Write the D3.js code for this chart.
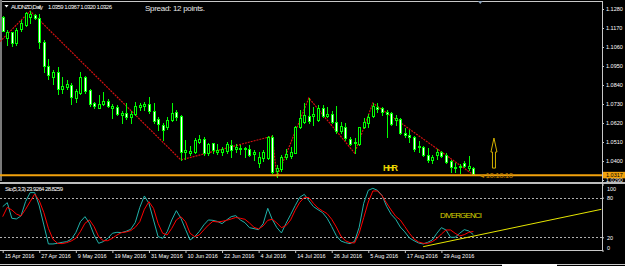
<!DOCTYPE html>
<html>
<head>
<meta charset="utf-8">
<script src="https://cdn.jsdelivr.net/npm/d3@7"></script>
<style>
  body { margin: 0; background: #000; }
  svg { display: block; }
  text { font-family: "Liberation Sans", Arial, sans-serif; }
</style>
</head>
<body>
<svg id="chart"></svg>
<script>
// Daily candles AUDNZD, one entry per bar (index 0 = 15 Apr 2016)
const openP = [1.1234,1.1112,1.1147,1.1083,1.1164,1.1187,1.1234,1.1245,1.1228,1.1089,
  1.0950,1.0886,1.0915,1.0817,1.0828,1.0840,1.0765,1.0793,1.0886,1.0811,
  1.0736,1.0707,1.0730,1.0747,1.0707,1.0712,1.0666,1.0678,1.0654,1.0672,
  1.0712,1.0718,1.0730,1.0689,1.0643,1.0608,1.0596,1.0637,1.0683,1.0660,
  1.0452,1.0446,1.0452,1.0510,1.0527,1.0446,1.0504,1.0452,1.0452,1.0458,
  1.0492,1.0469,1.0469,1.0475,1.0469,1.0440,1.0388,1.0417,1.0417,1.0538,
  1.0342,1.0354,1.0423,1.0429,1.0446,1.0596,1.0625,1.0660,1.0660,1.0637,
  1.0707,1.0660,1.0672,1.0625,1.0573,1.0596,1.0527,1.0504,1.0498,1.0596,
  1.0620,1.0660,1.0712,1.0707,1.0683,1.0678,1.0637,1.0643,1.0562,1.0550,
  1.0538,1.0481,1.0481,1.0435,1.0406,1.0435,1.0452,1.0435,1.0400,1.0359,
  1.0365,1.0388,1.0359,1.0359];
const highP = [1.1240,1.1158,1.1147,1.1170,1.1216,1.1263,1.1268,1.1251,1.1251,1.1101,
  1.0990,1.0927,1.0944,1.0886,1.0869,1.0851,1.0817,1.0915,1.0892,1.0817,
  1.0741,1.0782,1.0799,1.0759,1.0730,1.0724,1.0689,1.0736,1.0689,1.0741,
  1.0736,1.0741,1.0770,1.0736,1.0654,1.0620,1.0654,1.0736,1.0695,1.0666,
  1.0521,1.0486,1.0533,1.0550,1.0538,1.0504,1.0504,1.0498,1.0481,1.0510,
  1.0521,1.0498,1.0492,1.0481,1.0492,1.0464,1.0452,1.0464,1.0544,1.0550,
  1.0377,1.0435,1.0469,1.0481,1.0602,1.0695,1.0736,1.0765,1.0712,1.0724,
  1.0724,1.0712,1.0689,1.0718,1.0625,1.0620,1.0538,1.0533,1.0596,1.0649,
  1.0672,1.0736,1.0736,1.0712,1.0695,1.0683,1.0666,1.0649,1.0591,1.0579,
  1.0544,1.0515,1.0486,1.0475,1.0435,1.0469,1.0458,1.0446,1.0406,1.0388,
  1.0383,1.0400,1.0429,1.0367];
const lowP = [1.1153,1.1072,1.1066,1.1072,1.1153,1.1182,1.1199,1.1222,1.1054,1.0915,
  1.0875,1.0846,1.0788,1.0793,1.0817,1.0730,1.0741,1.0788,1.0793,1.0718,
  1.0707,1.0707,1.0724,1.0712,1.0649,1.0666,1.0620,1.0643,1.0620,1.0666,
  1.0695,1.0695,1.0678,1.0620,1.0579,1.0521,1.0585,1.0631,1.0637,1.0406,
  1.0412,1.0435,1.0446,1.0504,1.0435,1.0435,1.0446,1.0440,1.0435,1.0446,
  1.0423,1.0452,1.0440,1.0423,1.0429,1.0406,1.0365,1.0400,1.0412,1.0330,
  1.0307,1.0342,1.0412,1.0417,1.0446,1.0591,1.0620,1.0620,1.0608,1.0631,
  1.0654,1.0654,1.0620,1.0562,1.0562,1.0521,1.0492,1.0446,1.0492,1.0591,
  1.0596,1.0654,1.0683,1.0666,1.0538,1.0608,1.0608,1.0556,1.0538,1.0510,
  1.0458,1.0452,1.0429,1.0394,1.0388,1.0412,1.0423,1.0388,1.0336,1.0336,
  1.0330,1.0365,1.0348,1.0320];
const closeP = [1.1153,1.1147,1.1083,1.1158,1.1199,1.1257,1.1251,1.1228,1.1089,1.0950,
  1.0898,1.0915,1.0817,1.0834,1.0846,1.0770,1.0805,1.0886,1.0805,1.0730,
  1.0718,1.0730,1.0747,1.0718,1.0718,1.0672,1.0678,1.0654,1.0672,1.0718,
  1.0724,1.0730,1.0689,1.0631,1.0614,1.0579,1.0637,1.0678,1.0654,1.0452,
  1.0464,1.0458,1.0521,1.0527,1.0446,1.0498,1.0464,1.0464,1.0469,1.0498,
  1.0464,1.0481,1.0475,1.0469,1.0435,1.0452,1.0423,1.0452,1.0538,1.0336,
  1.0359,1.0423,1.0440,1.0452,1.0596,1.0649,1.0666,1.0631,1.0672,1.0707,
  1.0660,1.0672,1.0625,1.0573,1.0602,1.0533,1.0498,1.0510,1.0596,1.0625,
  1.0654,1.0718,1.0701,1.0683,1.0672,1.0614,1.0649,1.0562,1.0550,1.0538,
  1.0469,1.0486,1.0435,1.0406,1.0423,1.0452,1.0429,1.0394,1.0365,1.0365,
  1.0371,1.0371,1.0371,1.0326];

// Stochastic (5,3,3): main and signal line
const stoMain = [66.4,72.5,48.8,47.8,52.3,74.0,87.7,87.7,67.5,38.7,
  9.9,9.9,10.9,12.4,13.4,17.0,27.1,43.7,51.3,41.2,
  23.5,10.9,13.4,18.5,26.1,27.6,27.1,29.1,32.1,42.2,
  65.4,82.6,71.5,46.3,21.0,18.5,28.6,46.3,60.4,48.8,
  32.1,15.9,21.0,28.6,38.7,46.3,45.7,44.0,40.7,46.3,
  51.3,52.8,46.3,42.2,34.6,33.1,31.6,40.7,63.9,46.8,
  34.6,26.6,41.2,54.3,68.0,80.6,85.1,75.5,66.5,61.9,
  57.4,48.8,36.2,22.5,14.4,11.9,10.4,13.9,35.1,71.5,
  91.2,94.2,91.2,83.6,67.0,54.8,47.3,35.6,28.1,19.0,
  14.9,11.4,9.9,12.4,15.9,26.1,34.6,31.1,20.0,20.0,
  26.1,31.6,29.6,23.9264];
const stoSignal = [51.3,65.4,61.4,55.3,52.3,62.4,74.0,85.6,75.5,57.4,
  33.6,17.0,10.9,10.4,11.9,14.4,18.5,28.6,41.2,46.3,
  36.1,21.0,14.9,14.9,18.5,23.5,27.1,28.1,30.1,35.1,
  43.7,62.4,74.0,63.9,41.2,26.1,23.5,33.6,46.3,51.3,
  43.7,26.1,21.0,23.5,31.1,38.5,44.2,43.2,44.2,45.7,
  47.8,50.0,48.8,47.3,41.7,35.1,32.6,37.2,45.7,47.3,
  41.7,34.6,37.7,46.3,60.9,73.0,80.6,80.1,71.5,64.4,
  59.9,55.8,47.3,35.6,22.0,14.7,11.9,11.4,26.1,49.8,
  73.5,90.2,90.2,83.1,72.0,61.4,51.8,46.3,36.2,26.1,
  17.5,12.9,10.9,10.9,13.4,18.0,25.0,31.1,31.1,26.1,
  22.0,24.0,27.6,28.8259];

// ZigZag turning points [bar index, price]
const zigzag = [[-2,1.1054],[6,1.1268],[39,1.0406],[59,1.0544],[60,1.0307],[67,1.0765],[77,1.0446],[81,1.0736],[103,1.0320]];
// divergence trendline in the stochastic window [bar index, value]
const divLine = [[92,5.8],[131,62.4]];
const hLinePrice = 1.0317;

const priceTicks = [1.1280,1.1170,1.1060,1.0950,1.0840,1.0730,1.0620,1.0510,1.0400,1.0290];
const stoTicks = [100,80,20,0];
const stoLevels = [80,20];
const dateTickIdx = [0,8,16,24,32,40,48,56,64,72,80,88,96];
const dateLabels = ["15 Apr 2016","27 Apr 2016","9 May 2016","19 May 2016","31 May 2016","10 Jun 2016",
  "22 Jun 2016","4 Jul 2016","14 Jul 2016","26 Jul 2016","5 Aug 2016","17 Aug 2016","29 Aug 2016"];

const width = 625, height = 266;
const axisX = 602;
const main = { top: 2, bottom: 181 }, ind = { top: 184, bottom: 250.5 };

const svg = d3.select("#chart").attr("width", width).attr("height", height);
svg.append("rect").attr("width", width).attr("height", height).attr("fill", "#000");

// scales
const x = d3.scaleLinear().domain([0, 103]).range([2.7, 473.4]);
const y = d3.scaleLinear().domain([1.0290, 1.1280]).range([180, 9]);
const ys = d3.scaleLinear().domain([0, 100]).range([250.5, 184.5]);

const defs = svg.append("defs");
defs.append("clipPath").attr("id", "clipMain").append("rect")
  .attr("x", 0).attr("y", main.top).attr("width", axisX).attr("height", main.bottom - main.top);
defs.append("clipPath").attr("id", "clipInd").append("rect")
  .attr("x", 0).attr("y", ind.top).attr("width", axisX).attr("height", ind.bottom - ind.top);

// frame
svg.append("line").attr("x1", 0).attr("x2", axisX).attr("y1", 1.5).attr("y2", 1.5).attr("stroke", "#c8c8c8");
svg.append("rect").attr("x", 0).attr("y", 0).attr("width", 2).attr("height", 181).attr("fill", "#7a7a7a");
svg.append("rect").attr("x", 0).attr("y", 182).attr("width", width).attr("height", 2).attr("fill", "#bdbdbd");
svg.append("line").attr("x1", 0).attr("x2", axisX).attr("y1", 250.5).attr("y2", 250.5).attr("stroke", "#c8c8c8");
svg.append("line").attr("x1", axisX + 0.5).attr("x2", axisX + 0.5).attr("y1", 1).attr("y2", 251).attr("stroke", "#c8c8c8");
// bottom tab bar
svg.append("line").attr("x1", 0).attr("x2", width).attr("y1", 264.5).attr("y2", 264.5).attr("stroke", "#c8c8c8");
svg.append("rect").attr("x", 502).attr("y", 264).attr("width", 55).attr("height", 2).attr("fill", "#fff");

const gMain = svg.append("g").attr("clip-path", "url(#clipMain)");

// zigzag
gMain.append("path")
  .attr("d", d3.line().x(d => x(d[0])).y(d => y(d[1]))(zigzag))
  .attr("fill", "none").attr("stroke", "#d41010").attr("stroke-width", 1.2)
  .attr("stroke-dasharray", "2,1");

// candles
const bars = d3.range(openP.length).map(i => ({ i, o: openP[i], h: highP[i], l: lowP[i], c: closeP[i] }));
const candle = gMain.selectAll("g.candle").data(bars).join("g").attr("class", "candle");
candle.append("line")
  .attr("x1", d => Math.round(x(d.i)) + 0.5).attr("x2", d => Math.round(x(d.i)) + 0.5)
  .attr("y1", d => Math.round(y(d.h))).attr("y2", d => Math.round(y(d.l)) + 1)
  .attr("stroke", "#00ff00");
candle.append("rect")
  .attr("x", d => Math.round(x(d.i)) - 0.5)
  .attr("y", d => Math.round(y(Math.max(d.o, d.c))) + 0.5)
  .attr("width", 2)
  .attr("height", d => Math.max(0, Math.round(y(Math.min(d.o, d.c))) - Math.round(y(Math.max(d.o, d.c)))))
  .attr("fill", d => d.c < d.o ? "#ffffff" : "#000000")
  .attr("stroke", "#00ff00");

// horizontal level
gMain.append("line").attr("x1", 0).attr("x2", axisX).attr("y1", y(hLinePrice)).attr("y2", y(hLinePrice))
  .attr("stroke", "#f2a20c").attr("stroke-width", 2);

// annotations
svg.append("text").attr("x", 383).attr("y", 171).attr("fill", "#e8d400")
  .style("font-size", "9px").style("font-weight", "bold").attr("textLength", 15).text("HHR");
svg.append("text").attr("x", x(104.5)).attr("y", y(hLinePrice) + 2.5).attr("fill", "#c98600")
  .style("font-size", "8px").attr("textLength", 33).text("◂ 10:10:10");

// up arrow object
const ax = x(107.5), aTop = y(1.0533), aNeck = y(1.0452), aBot = y(1.0359);
svg.append("path")
  .attr("d", `M${ax},${aTop} L${ax + 3},${aNeck} L${ax + 1.5},${aNeck} L${ax + 1.5},${aBot} L${ax - 1.5},${aBot} L${ax - 1.5},${aNeck} L${ax - 3},${aNeck} Z`)
  .attr("fill", "none").attr("stroke", "#d2b000").attr("stroke-width", 1);

// chart shift marker
const sx = x(104.5);
svg.append("path").attr("d", `M${sx - 2.5},1 L${sx + 2.5},1 L${sx},4 Z`).attr("fill", "#8aa0b8");

// header texts
svg.append("path").attr("d", "M4.5,5 L8.5,5 L6.5,7.5 Z").attr("fill", "#fff");
svg.append("text").attr("x", 11).attr("y", 8.5).attr("fill", "#fff").style("font-size", "6px")
  .attr("textLength", 32).text("AUDNZD,Daily");
svg.append("text").attr("x", 48).attr("y", 8.5).attr("fill", "#fff").style("font-size", "6px")
  .attr("textLength", 64).text("1.0359 1.0367 1.0320 1.0326");
svg.append("text").attr("x", 145).attr("y", 10.5).attr("fill", "#e8e8e8").style("font-size", "8px")
  .attr("textLength", 60).text("Spread: 12 points.");

// price axis
const yAxisG = svg.append("g").attr("transform", `translate(${axisX},0)`)
  .call(d3.axisRight(y).tickValues(priceTicks).tickSize(2).tickPadding(2).tickFormat(d3.format(".4f")));
yAxisG.select(".domain").remove();
yAxisG.selectAll("line").attr("stroke", "#c8c8c8");
yAxisG.selectAll("text").attr("fill", "#fff").style("font-size", "5.5px");

// price label of the level
svg.append("rect").attr("x", 603).attr("y", y(hLinePrice) - 3.5).attr("width", 22).attr("height", 6.5).attr("fill", "#f2a20c");
svg.append("text").attr("x", 606).attr("y", y(hLinePrice) + 2).attr("fill", "#000").style("font-size", "5.5px")
  .text(d3.format(".4f")(hLinePrice));

// stochastic window
const gInd = svg.append("g").attr("clip-path", "url(#clipInd)");
gInd.selectAll("line.level").data(stoLevels).join("line").attr("class", "level")
  .attr("x1", 0).attr("x2", axisX).attr("y1", d => Math.round(ys(d)) + 0.5).attr("y2", d => Math.round(ys(d)) + 0.5)
  .attr("stroke", "#b0b0b0").attr("stroke-dasharray", "2,2");
gInd.append("path")
  .attr("d", d3.line().x((d, i) => x(i)).y(d => ys(d))(stoMain))
  .attr("fill", "none").attr("stroke", "#20b2aa").attr("stroke-width", 1);
gInd.append("path")
  .attr("d", d3.line().x((d, i) => x(i)).y(d => ys(d))(stoSignal))
  .attr("fill", "none").attr("stroke", "#ff0000").attr("stroke-width", 1);
gInd.append("path")
  .attr("d", d3.line().x(d => x(d[0])).y(d => ys(d[1]))(divLine))
  .attr("fill", "none").attr("stroke", "#e6e600").attr("stroke-width", 1);

svg.append("text").attr("x", 5).attr("y", 190.5).attr("fill", "#fff").style("font-size", "6px")
  .attr("textLength", 58).text("Sto(5,3,3) 23.9264 28.8259");
svg.append("text").attr("x", 440).attr("y", 217.5).attr("fill", "#d8d400").style("font-size", "8px")
  .attr("textLength", 42).text("DIVERGENCI");

const sAxisG = svg.append("g").attr("transform", `translate(${axisX},0)`)
  .call(d3.axisRight(ys).tickValues(stoTicks).tickSize(2).tickPadding(3));
sAxisG.select(".domain").remove();
sAxisG.selectAll("line").attr("stroke", "#c8c8c8");
sAxisG.selectAll("text").attr("fill", "#fff").style("font-size", "5.5px")
  .attr("dy", d => d === 100 ? "1.1em" : d === 0 ? "-0.1em" : "0.32em");

// date axis
const xAxisG = svg.append("g").attr("transform", "translate(0,250)")
  .call(d3.axisBottom(x).tickValues(dateTickIdx).tickSize(3).tickFormat((d, i) => dateLabels[i]));
xAxisG.select(".domain").remove();
xAxisG.selectAll("line").attr("stroke", "#c8c8c8");
xAxisG.selectAll("text").attr("fill", "#fff").style("font-size", "5.5px")
  .attr("text-anchor", "start").attr("x", 1.5).attr("y", 4.5);
</script>
</body>
</html>
